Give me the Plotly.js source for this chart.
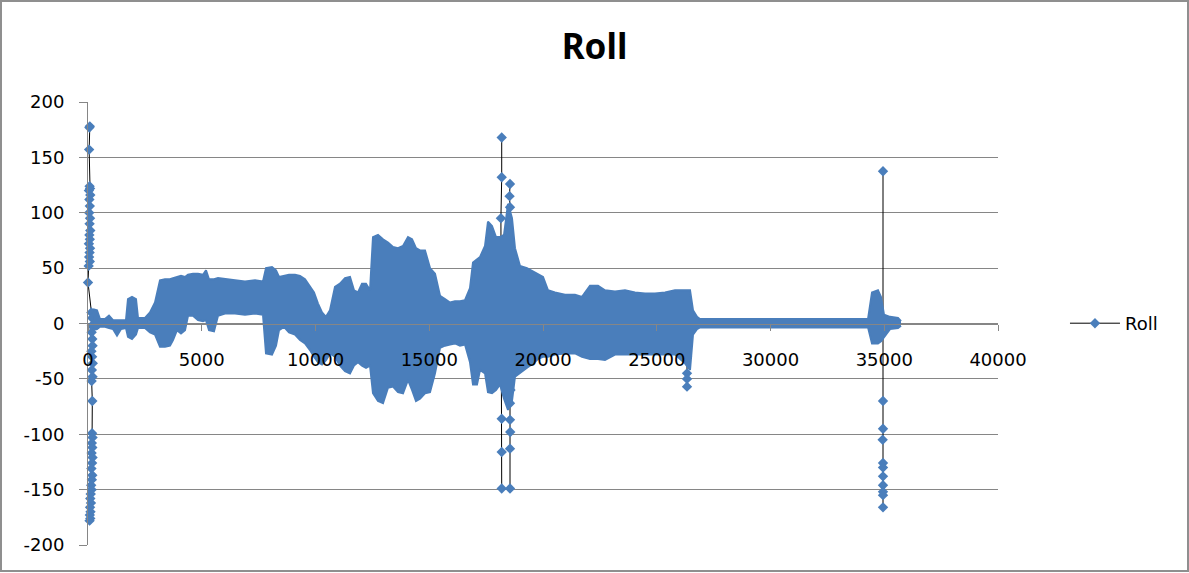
<!DOCTYPE html>
<html><head><meta charset="utf-8">
<script src="https://cdn.plot.ly/plotly-3.0.1.min.js"></script>
<style>
html,body{margin:0;padding:0;background:#fff;}
#chart{width:1189px;height:573px;}
#frame{position:absolute;left:0;top:0;width:1185px;height:568px;border:2px solid #8f8f8f;pointer-events:none;}
</style>
</head><body><div id="chart"></div><div id="frame"></div>
<script>
// ---- data ----
// dense band: sample x positions with the upper / lower extent of the cloud of points
const bandX = [220,396,527,747,923,1099,1275,1451,1670,1758,1934,2110,2198,2505,2725,2945,3165,3385,3604,3736,3912,4088,4264,4396,4615,4835,5055,5187,5319,5538,5714,6022,6462,6901,7341,7692,7824,8088,8264,8396,8615,8835,9099,9319,9538,9758,9934,10110,10286,10462,10637,10857,11077,11297,11516,11692,11868,12044,12220,12396,12527,12747,12967,13187,13407,13626,13846,14066,14242,14418,14593,14813,15033,15253,15473,15692,15912,16132,16352,16571,16791,16923,17099,17231,17451,17582,17758,17934,18110,18286,18462,18637,18769,18989,19297,19560,19780,20000,20220,20527,20967,21407,21714,22066,22418,22725,23165,23604,24044,24484,24923,25363,25802,26242,26462,26593,26769,26901,28659,30418,32176,33495,34286,34462,34725,34857,34989,35253,35604,35736];
const bandUpper = [13,12,4,4,7,3,3,3,3,22,24,22,5,5,10,19,39,40,40,41,42,43,42,44,45,45,44,48,40,40,41,40,39,38,39,38,50,51,48,42,43,44,44,43,40,33,28,18,10,6,12,33,36,41,42,30,28,36,36,30,78,80,76,73,69,68,70,78,76,68,66,66,50,45,25,22,19,20,20,21,32,55,58,60,70,92,88,78,78,80,108,95,68,52,50,47,44,42,30,28,26,26,24,34,34,30,29,30,28,27,27,28,30,30,30,12,6,4,4,4,4,4,4,28,30,24,8,6,5,2];
const bandLower = [-6,-5,-3,-3,-4,-5,-11,-5,-4,-12,-14,-10,-4,-4,-8,-10,-21,-21,-20,-15,-6,-9,-6,7,7,3,2,3,-6,-7,7,9,9,8,9,8,-27,-28,-20,-6,-3,-8,-10,-15,-18,-24,-30,-35,-37,-33,-27,-30,-38,-43,-45,-38,-35,-38,-40,-38,-63,-70,-72,-58,-57,-62,-63,-51,-60,-70,-68,-63,-62,-45,-22,-20,-19,-18,-20,-19,-35,-55,-55,-42,-45,-62,-63,-60,-55,-68,-78,-70,-48,-45,-40,-36,-32,-30,-30,-28,-27,-27,-30,-32,-32,-33,-28,-28,-28,-28,-28,-28,-28,-36,-42,-10,-5,-3.5,-3.5,-3.5,-3.5,-3.5,-3.5,-18,-18,-16,-12,-5,-4,-2];

// isolated readings (spikes) joined by the black series line; null = break
const spikeX = [60,80,50,70,90,40,100,60,80,50,90,70,100,60,80,40,90,70,50,80,30,0,150,180,170,160,190,200,150,180,210,170,200,160,190,180,200,170,190,160,200,180,150,190,170,140,160,120,100,130,90,110,80,100,70,
  null,
  18185,18185,18150,18185,18185,18185,
  null,
  18550,18530,18550,18570,18550,18550,18560,18550,18550,
  null,
  26330,26330,26330,26330,
  null,
  34945,34945,34945,34930,34945,34945,34945,34945,34945,34945,34945];
const spikeY = [177,178,157,124,122,120,116,112,106,100,95,90,84,80,76,72,68,64,60,56,52,37,10,5,-2,-8,-14,-20,-25,-30,-36,-42,-48,-52,-70,-99,-103,-108,-112,-117,-121,-126,-131,-137,-141,-146,-150,-154,-158,-162,-166,-170,-173,-176,-178,
  null,
  168,132,95,-86,-116,-149,
  null,
  126,115,105,-60,-72,-87,-98,-113,-149,
  null,
  -30,-45,-50,-57,
  null,
  137.5,-70,-95,-105,-126,-130,-138,-146,-152,-155,-166];

const seriesName = 'Roll';
const chartTitle = 'Roll';
const xTickVals = [0,5000,10000,15000,20000,25000,30000,35000,40000];
const xTickText = ['0','5000','10000','15000','20000','25000','30000','35000','40000'];
const yTickVals = [-200,-150,-100,-50,0,50,100,150,200];
const yTickText = ['-200','-150','-100','-50','0','50','100','150','200'];

// ---- drawing ----
const blue = '#4a7ebb';
const traces = [
  {x: spikeX, y: spikeY, type:'scatter', mode:'lines+markers', name: seriesName,
   line:{color:'#000', width:1}, marker:{symbol:'diamond', size:8, color:blue},
   connectgaps:false, cliponaxis:false, hoverinfo:'x+y'},
  {x: bandX, y: bandLower, type:'scatter', mode:'lines', showlegend:false,
   line:{color:blue, width:2, shape:'linear'}, hoverinfo:'skip'},
  {x: bandX, y: bandUpper, type:'scatter', mode:'lines', showlegend:false,
   line:{color:blue, width:2}, fill:'tonexty', fillcolor:blue, hoverinfo:'skip'}
];

const layout = {
  width:1189, height:573,
  margin:{l:88, r:191, t:102, b:28},
  paper_bgcolor:'#fff', plot_bgcolor:'#fff',
  font:{family:'DejaVu Sans', size:18, color:'#000'},
  title:{text: chartTitle, font:{family:'Noto Sans', size:35, weight:700, color:'#000'},
         xref:'container', x:0.5, xanchor:'center', yref:'container', y:0.919, yanchor:'middle'},
  xaxis:{range:[0,40000], tickvals:xTickVals, ticktext:xTickText, showgrid:false, zeroline:false,
         showline:true, linecolor:'#868686', linewidth:1, ticks:'outside', ticklen:6, tickcolor:'#868686',
         anchor:'free', position:0.5, ticklabelstandoff:14, fixedrange:true},
  yaxis:{range:[-200,200], tickvals:yTickVals, ticktext:yTickText, showgrid:true, gridcolor:'#868686', gridwidth:1,
         zeroline:false, showline:true, linecolor:'#868686', linewidth:1, ticks:'outside', ticklen:8, tickcolor:'#868686',
         ticklabelstandoff:11, fixedrange:true},
  legend:{x:1.0736, xanchor:'left', y:0.5, yanchor:'middle', itemwidth:50, font:{size:18, color:'#000'}, bgcolor:'rgba(0,0,0,0)'},
  showlegend:true
};

Plotly.newPlot('chart', traces, layout, {displayModeBar:false, staticPlot:true});
</script></body></html>
